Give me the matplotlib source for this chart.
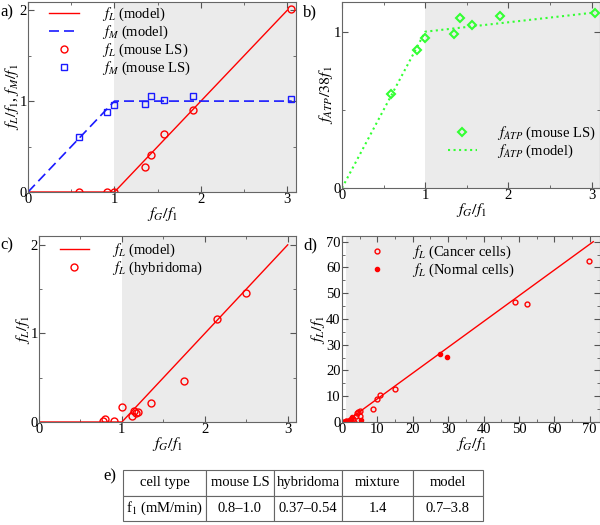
import numpy as np
import matplotlib
matplotlib.use("Agg")
import matplotlib.pyplot as plt
from matplotlib.ticker import MultipleLocator

plt.rcParams['font.family'] = ['Liberation Serif', 'DejaVu Serif']
plt.rcParams['mathtext.fontset'] = 'stix'
plt.rcParams['font.size'] = 10

# ---- data ----
# a) mouse LS
a_x = [0.59, 0.91, 1.0, 1.35, 1.42, 1.57, 1.91, 3.04]
a_fL = [0.0, 0.0, 0.0, 0.27, 0.41, 0.64, 0.90, 2.01]
a_fM = [0.60, 0.88, 0.96, 0.97, 1.06, 1.01, 1.06, 1.02]
modL_x = [0, 1, 3]
modL_y = [0, 0, 2]
modM_x = [0, 1, 3.05]
modM_y = [0, 1, 1]

# b) ATP
b_x = [0.59, 0.90, 1.0, 1.35, 1.42, 1.56, 1.90, 3.04]
b_atp = [0.60, 0.88, 0.96, 0.985, 1.085, 1.04, 1.10, 1.12]
modA_x = [0, 1, 3.04]
modA_y = [0, 1, 1.123]

# c) hybridoma
c_x = [0.77, 0.80, 0.90, 1.0, 1.12, 1.14, 1.17, 1.20, 1.35, 1.75, 2.15, 2.50]
c_fL = [0.01, 0.03, 0.01, 0.17, 0.07, 0.12, 0.10, 0.11, 0.22, 0.46, 1.165, 1.455]

# d) cancer / normal cells
can_x = [0.3, 1.2, 2.4, 3.1, 3.3, 3.9, 4.1, 4.6, 5.0, 5.0, 8.8, 9.8, 10.7, 14.9, 48.8, 52.4, 69.7]
can_y = [0.0, 0.2, 0.6, 1.3, 0.1, 2.2, 3.5, 3.8, 4.1, 2.4, 5.0, 9.0, 10.3, 12.8, 46.5, 45.7, 62.5]
nor_x = [0.5, 1.0, 1.5, 2.5, 2.8, 5.3, 27.6, 29.7]
nor_y = [0.1, 0.3, 0.2, 1.0, 1.8, 0.6, 26.3, 25.3]
modD_x = [0, 1, 71]
modD_y = [0, 0, 70]

# e) table
tab_cols = ['cell type', 'mouse LS', 'hybridoma', 'mixture', 'model']
tab_row = ['f$_1$ (mM/min)', '0.8\u20131.0', '0.37\u20130.54', '1.4', '0.7\u20133.8']

red = '#ff0000'
blue = '#1a1aff'
green = '#33ff33'
shade = '#ebebeb'

W, H = 600, 525
fig = plt.figure(figsize=(6, 5.25), dpi=100)


def px_axes(l, t, r, b):
    return fig.add_axes([l / W, 1 - b / H, (r - l) / W, (b - t) / H])


def style(ax, xlim, ylim, major, minor, ymajor, yminor):
    ax.set_xlim(*xlim)
    ax.set_ylim(*ylim)
    ax.axvspan(1, xlim[1], color=shade, zorder=0, lw=0)
    ax.xaxis.set_major_locator(MultipleLocator(major))
    ax.xaxis.set_minor_locator(MultipleLocator(minor))
    ax.yaxis.set_major_locator(MultipleLocator(ymajor))
    ax.yaxis.set_minor_locator(MultipleLocator(yminor))
    ax.tick_params(which='both', direction='in', top=True, right=True,
                   colors='#555555', labelcolor='black', labelsize=10.5, pad=1)
    ax.tick_params(which='major', length=4)
    ax.tick_params(which='minor', length=2)
    for s in ax.spines.values():
        s.set_color('#666666')
    ax.set_xlabel('$f_G/f_1$', fontsize=11.5, labelpad=-1)


# a)
ax = px_axes(28, 2, 296, 192)
style(ax, (0, 3.1), (0, 2.09), 1, 0.5, 1, 0.5)
ax.plot(modL_x, modL_y, '-', color=red, lw=1, label='$f_L$ (model)')
ax.plot(modM_x, modM_y, '--', color=blue, lw=1.2, dashes=(6, 3), label='$f_M$ (model)')
ax.plot(a_x, a_fL, 'o', mfc='none', mec=red, ms=5, mew=1, label='$f_L$ (mouse LS)')
ax.plot(a_x, a_fM, 's', mfc='none', mec=blue, ms=4.5, mew=1, label='$f_M$ (mouse LS)')
ax.set_ylabel('$f_L/f_1$, $f_M/f_1$', fontsize=11.5, labelpad=-1)
ax.legend(loc='upper left', bbox_to_anchor=(0.08, 0.98), frameon=False, numpoints=1,
          handlelength=2, handletextpad=1.6, borderpad=0, borderaxespad=0,
          labelspacing=0.05, fontsize=10.5)
fig.text(0 / W, 1 - 12 / H, 'a)', fontsize=12, va='center')

# b)
ax = px_axes(342, 2, 600, 188)
style(ax, (0, 3.1), (0, 1.19), 1, 0.5, 1, 0.5)
ax.plot(b_x, b_atp, 'D', mfc='none', mec=green, ms=4, mew=1.5, label='$f_{ATP}$ (mouse LS)')
ax.plot(modA_x, modA_y, ':', color=green, lw=1.5, label='$f_{ATP}$ (model)')
ax.set_ylabel('$f_{ATP}/38f_1$', fontsize=11.5, labelpad=-1)
ax.legend(loc='upper left', bbox_to_anchor=(0.41, 0.34), frameon=False, numpoints=1,
          handlelength=2, handletextpad=1.4, borderpad=0, borderaxespad=0,
          labelspacing=0.05, fontsize=10.5)
fig.text(303 / W, 1 - 12 / H, 'b)', fontsize=12, va='center')

# c)
ax = px_axes(39, 236, 296, 422)
style(ax, (0, 3.1), (0, 2.1), 1, 0.5, 1, 0.5)
ax.plot(modL_x, modL_y, '-', color=red, lw=1, label='$f_L$ (model)')
ax.plot(c_x, c_fL, 'o', mfc='none', mec=red, ms=5, mew=1, label='$f_L$ (hybridoma)')
ax.set_ylabel('$f_L/f_1$', fontsize=11.5, labelpad=-1)
ax.legend(loc='upper left', bbox_to_anchor=(0.08, 0.97), frameon=False, numpoints=1,
          handlelength=2, handletextpad=1.6, borderpad=0, borderaxespad=0,
          labelspacing=0.05, fontsize=10.5)
fig.text(0 / W, 1 - 245 / H, 'c)', fontsize=12, va='center')

# d)
ax = px_axes(342, 236, 600, 422)
style(ax, (0, 72.9), (0, 72.2), 10, 5, 10, 5)
ax.plot(modD_x, modD_y, '-', color=red, lw=1)
ax.plot(can_x, can_y, 'o', mfc='none', mec=red, ms=3.5, mew=1, label='$f_L$ (Cancer cells)')
ax.plot(nor_x, nor_y, 'o', color=red, ms=3, label='$f_L$ (Normal cells)')
ax.set_ylabel('$f_L/f_1$', fontsize=11.5, labelpad=-1)
ax.legend(loc='upper left', bbox_to_anchor=(0.08, 0.96), frameon=False, numpoints=1,
          handlelength=2, handletextpad=1.4, borderpad=0, borderaxespad=0,
          labelspacing=0.05, fontsize=10.5)
fig.text(303 / W, 1 - 245 / H, 'd)', fontsize=12, va='center')

# e) table
tax = px_axes(123, 470, 483, 521)
tax.axis('off')
cw = np.array([83, 68, 68, 71, 70], dtype=float)
tbl = tax.table(cellText=[tab_cols, tab_row], cellLoc='center',
                colWidths=list(cw / cw.sum()), bbox=[0, 0, 1, 1])
tbl.auto_set_font_size(False)
tbl.set_fontsize(10.5)
for cell in tbl.get_celld().values():
    cell.set_edgecolor('#666666')
    cell.set_linewidth(0.8)
fig.text(103 / W, 1 - 476 / H, 'e)', fontsize=12, va='center')

fig.savefig('out.png', dpi=100)
